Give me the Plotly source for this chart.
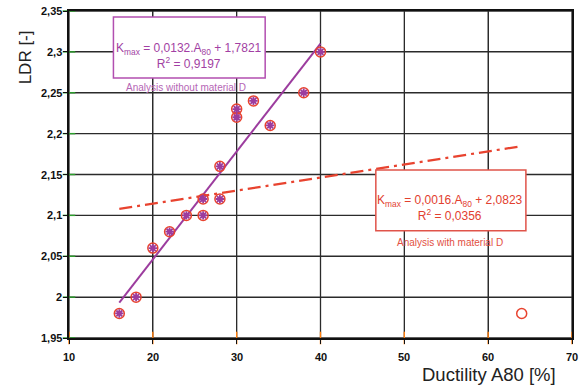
import plotly.graph_objects as go

# Measured ductility A80 [%] and limiting drawing ratio for the materials without D
a80 = [16, 18, 20, 22, 24, 26, 26, 28, 28, 30, 30, 32, 34, 38, 40]
ldr = [1.98, 2.00, 2.06, 2.08, 2.10, 2.10, 2.12, 2.12, 2.16, 2.22, 2.23, 2.24, 2.21, 2.25, 2.30]
# Material D
a80_d = [64]
ldr_d = [1.98]

# Linear regressions K_max = slope * A80 + intercept
fit_without = {"slope": 0.0132, "intercept": 1.7821, "r2": "0,9197", "x": [16, 40]}
fit_with = {"slope": 0.0016, "intercept": 2.0823, "r2": "0,0356", "x": [16, 64]}

y_ticks = [1.95, 2.0, 2.05, 2.1, 2.15, 2.2, 2.25, 2.3, 2.35]
y_tick_text = ["1,95", "2", "2,05", "2,1", "2,15", "2,2", "2,25", "2,3", "2,35"]
x_ticks = [10, 20, 30, 40, 50, 60, 70]
x_tick_text = ["10", "20", "30", "40", "50", "60", "70"]

RED = "#e8432f"
PURPLE = "#9c3c9e"
GRID = "#2b2b2b"
FONT = "Liberation Sans, Arial, sans-serif"


def comma(v):
    return str(v).replace(".", ",")


x_lo, x_hi = x_ticks[0], x_ticks[-1]
y_lo, y_hi = y_ticks[0], y_ticks[-1]

fig = go.Figure()

# Grid lines at every tick position
gx, gy = [], []
for xv in x_ticks:
    gx += [xv, xv, None]
    gy += [y_lo, y_hi, None]
for yv in y_ticks:
    gx += [x_lo, x_hi, None]
    gy += [yv, yv, None]
fig.add_trace(go.Scatter(x=gx, y=gy, mode="lines", line=dict(color=GRID, width=1.3),
                         showlegend=False, hoverinfo="skip"))

# Outside tick marks
fig.add_trace(go.Scatter(x=x_ticks, y=[y_lo] * len(x_ticks), mode="markers", cliponaxis=False,
                         marker=dict(symbol="line-ns-open", size=9, line=dict(color=GRID, width=1.4)),
                         showlegend=False, hoverinfo="skip"))
fig.add_trace(go.Scatter(x=[x_lo] * len(y_ticks), y=y_ticks, mode="markers", cliponaxis=False,
                         marker=dict(symbol="line-ew-open", size=9, line=dict(color=GRID, width=1.4)),
                         showlegend=False, hoverinfo="skip"))

# Regression line including material D (dash-dot)
fig.add_trace(go.Scatter(
    x=fit_with["x"],
    y=[fit_with["slope"] * v + fit_with["intercept"] for v in fit_with["x"]],
    mode="lines", line=dict(color=RED, width=2.2, dash="13px,5px,3px,5px"),
    showlegend=False, hoverinfo="skip"))

# Regression line without material D
fig.add_trace(go.Scatter(
    x=fit_without["x"],
    y=[fit_without["slope"] * v + fit_without["intercept"] for v in fit_without["x"]],
    mode="lines", line=dict(color=PURPLE, width=2),
    showlegend=False, hoverinfo="skip"))

# All materials: open red circles
fig.add_trace(go.Scatter(
    x=a80 + a80_d, y=ldr + ldr_d, mode="markers",
    marker=dict(symbol="circle-open", size=10, color=RED, line=dict(width=1.5)),
    showlegend=False))

# Materials without D: purple crosses
fig.add_trace(go.Scatter(
    x=a80, y=ldr, mode="markers",
    marker=dict(symbol="asterisk-open", size=7, color=PURPLE, line=dict(width=1.8, color=PURPLE)),
    showlegend=False))

axis_common = dict(
    showgrid=True, gridcolor=GRID, gridwidth=1.3,
    showline=True, linecolor="#111111", linewidth=2, mirror=True,
    ticks="outside", ticklen=4, tickcolor="#111111", tickwidth=1.4,
    showticklabels=False, zeroline=False,
)

fig.update_xaxes(range=[x_lo, x_hi], tickvals=x_ticks, **axis_common)
fig.update_yaxes(range=[y_lo, y_hi], tickvals=y_ticks, **axis_common)

tick_font = dict(family=FONT, size=11, color="#111111", weight="bold")
annotations = []
for xv, label in zip(x_ticks, x_tick_text):
    annotations.append(dict(xref="x", yref="paper", x=xv, y=0, xanchor="center", yanchor="top",
                            yshift=-11, showarrow=False, text=label, font=tick_font))
for yv, label in zip(y_ticks, y_tick_text):
    annotations.append(dict(xref="paper", yref="y", x=0, y=yv, xanchor="right", yanchor="middle",
                            xshift=-5, showarrow=False, text=label, font=tick_font))

# Equation boxes
shapes = [
    dict(type="rect", xref="x", yref="y", x0=15.3, x1=33.4, y0=2.268, y1=2.3427,
         line=dict(color="#b24fb0", width=1.5), fillcolor="white", layer="above"),
    dict(type="rect", xref="x", yref="y", x0=46.6, x1=64.5, y0=2.0813, y1=2.1555,
         line=dict(color="#e0544a", width=1.5), fillcolor="white", layer="above"),
]

annotations += [
    dict(xref="x", yref="y", x=24.36, y=2.2955, showarrow=False,
         text=f"K<sub>max</sub> = {comma(fit_without['slope'])}.A<sub>80</sub> + "
              f"{comma(fit_without['intercept'])}<br>R<sup>2</sup> = {fit_without['r2']}",
         font=dict(family=FONT, size=12, color="#a23fa3")),
    dict(xref="x", yref="y", x=23.96, y=2.2567, showarrow=False,
         text="Analysis without material D",
         font=dict(family=FONT, size=10, color="#b566b5")),
    dict(xref="x", yref="y", x=55.45, y=2.1087, showarrow=False,
         text=f"K<sub>max</sub> = {comma(fit_with['slope'])}.A<sub>80</sub> + "
              f"{comma(fit_with['intercept'])}<br>R<sup>2</sup> = {fit_with['r2']}",
         font=dict(family=FONT, size=12, color="#e2402f")),
    dict(xref="x", yref="y", x=55.4, y=2.0666, showarrow=False,
         text="Analysis with material D",
         font=dict(family=FONT, size=10, color="#e2503f")),
    # axis titles
    dict(xref="paper", yref="paper", x=-0.087, y=0.859, xanchor="center", yanchor="middle",
         showarrow=False, textangle=-90,
         text="LDR [-]", font=dict(family=FONT, size=17, color="#222222")),
    dict(xref="paper", yref="paper", x=0.972, y=-0.113, xanchor="right", yanchor="middle",
         showarrow=False, text="Ductility A80 [%]",
         font=dict(family=FONT, size=18.5, color="#222222")),
]

fig.update_layout(
    template="none",
    width=587, height=389,
    margin=dict(l=69, r=15, t=11, b=51),
    font=dict(family=FONT, size=11, color="#111111"),
    paper_bgcolor="white", plot_bgcolor="white",
    shapes=shapes, annotations=annotations,
    showlegend=False,
)

fig.write_html("out.html")
